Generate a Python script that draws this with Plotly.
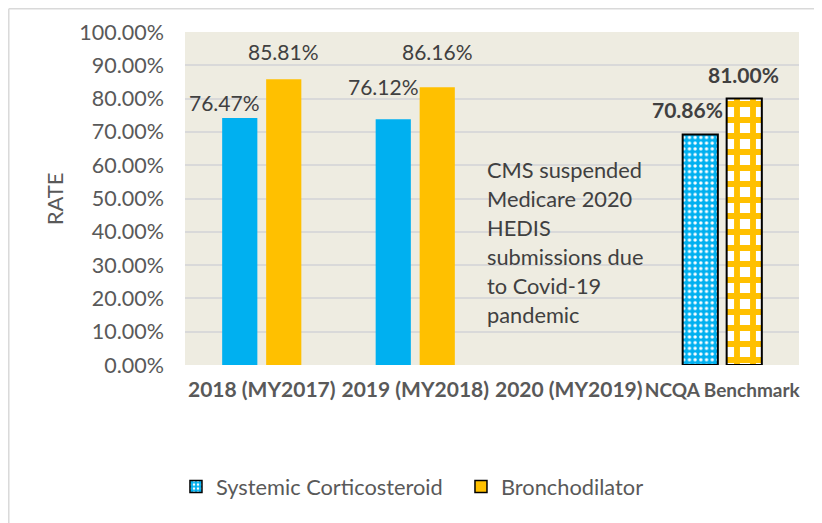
import plotly.graph_objects as go

categories = ["2018 (MY2017)", "2019 (MY2018)", "2020 (MY2019)", "NCQA Benchmark"]
tick_text = ["2018 (MY2017)", "2019 (MY2018)", "2020 (MY2019)",
             "<span style='font-size:19px'>NCQA Benchmark</span>"]

# bar heights as drawn in the picture
corticosteroid = [74.2, 73.8, None, 69.2]
bronchodilator = [85.8, 83.4, None, 80.0]

# data label texts
corticosteroid_labels = ["76.47%", "76.12%", "", "70.86%"]
bronchodilator_labels = ["85.81%", "86.16%", "", "81.00%"]

note_lines = ["CMS suspended", "Medicare 2020", "HEDIS",
              "submissions due", "to Covid-19", "pandemic"]

BLUE = "#00B0F0"
ORANGE = "#FFC000"
FONT = "Lato"

fig = go.Figure()

fig.add_trace(go.Bar(
    x=categories, y=corticosteroid, name="Systemic Corticosteroid",
    offsetgroup="a", showlegend=False,
    marker=dict(
        color=BLUE,
        line=dict(color=["rgba(0,0,0,0)"] * 3 + ["black"], width=[0, 0, 0, 2]),
        pattern=dict(shape=["", "", "", "."], fgcolor="white", fgopacity=1,
                     size=5.7, solidity=0.28),
    ),
))
fig.add_trace(go.Bar(
    x=categories, y=bronchodilator, name="Bronchodilator",
    offsetgroup="b", showlegend=False,
    marker=dict(
        color=ORANGE,
        line=dict(color=["rgba(0,0,0,0)"] * 3 + ["black"], width=[0, 0, 0, 2]),
        pattern=dict(shape=["", "", "", "+"], fgcolor=ORANGE, bgcolor="white",
                     fgopacity=1, size=16, solidity=0.6),
    ),
))

# legend entries
fig.add_trace(go.Bar(
    x=[categories[0]], y=[None], name="Systemic Corticosteroid", offsetgroup="a",
    marker=dict(color=BLUE, line=dict(color="black", width=1.5),
                pattern=dict(shape=".", fgcolor="white", fgopacity=1, size=5, solidity=0.3)),
))
fig.add_trace(go.Bar(
    x=[categories[0]], y=[None], name="Bronchodilator", offsetgroup="b",
    marker=dict(color=ORANGE, line=dict(color="black", width=1.5)),
))

# data labels (moved by hand in the original)
cort_label_y = [78.7, 83.5, None, 76.8]
cort_label_dx = [-37, -32, 0, -35]
bron_label_y = [94.0, 94.0, None, 87.3]
bron_label_dx = [22, 22, 0, 21]
for i, cat in enumerate(categories):
    bold = cat == "NCQA Benchmark"
    for txt, ly, dx in [(corticosteroid_labels[i], cort_label_y[i], cort_label_dx[i]),
                        (bronchodilator_labels[i], bron_label_y[i], bron_label_dx[i])]:
        if not txt:
            continue
        fig.add_annotation(
            x=cat, y=ly, xshift=dx, text="<b>%s</b>" % txt if bold else txt,
            showarrow=False, xanchor="center", yanchor="middle",
            font=dict(family=FONT, size=21, color="#404040"),
        )

for i, line in enumerate(note_lines):
    fig.add_annotation(
        x=categories[2], xshift=-84, y=58.8 - 8.75 * i, text=line,
        showarrow=False, xanchor="left", yanchor="middle",
        font=dict(family=FONT, size=21.8, color="#404040"),
    )

fig.add_annotation(
    xref="paper", yref="paper", x=-0.212, y=0.5, text="RATE", textangle=-90,
    showarrow=False, xanchor="center", yanchor="middle",
    font=dict(family=FONT, size=22, color="#595959"),
)

# outer chart border
fig.add_shape(type="line", xref="paper", yref="paper", x0=-0.287, x1=-0.287,
              y0=1.07, y1=-0.6, line=dict(color="#D9D9D9", width=1.5))
fig.add_shape(type="line", xref="paper", yref="paper", x0=-0.287, x1=1.1,
              y0=1.07, y1=1.07, line=dict(color="#D9D9D9", width=1.5))

fig.update_layout(
    width=822, height=523, autosize=False,
    margin=dict(l=177, r=31, t=24, b=166),
    paper_bgcolor="white", plot_bgcolor="#EEECE1",
    barmode="group", bargap=0.427, bargroupgap=0.2,
    font=dict(family=FONT, color="#595959"),
    legend=dict(orientation="h", x=-0.0147, xanchor="left", y=-0.366, yanchor="middle",
                font=dict(family=FONT, size=21.8, color="#595959"),
                entrywidth=240, bgcolor="rgba(0,0,0,0)"),
)
fig.update_xaxes(
    type="category", tickvals=categories, ticktext=tick_text, tickangle=0,
    tickfont=dict(family=FONT, size=21, color="#595959", weight="bold"),
    showgrid=False, ticks="", ticklabelstandoff=10, automargin=False,
)
fig.update_yaxes(
    range=[0, 100], dtick=10, tickformat=".2f", ticksuffix="%",
    showgrid=True, gridcolor="#D9D9D9", gridwidth=1.5, zeroline=False,
    tickfont=dict(family=FONT, size=21.5, color="#595959"),
    ticklabelstandoff=20, automargin=False,
)

fig.write_html("out.html")
